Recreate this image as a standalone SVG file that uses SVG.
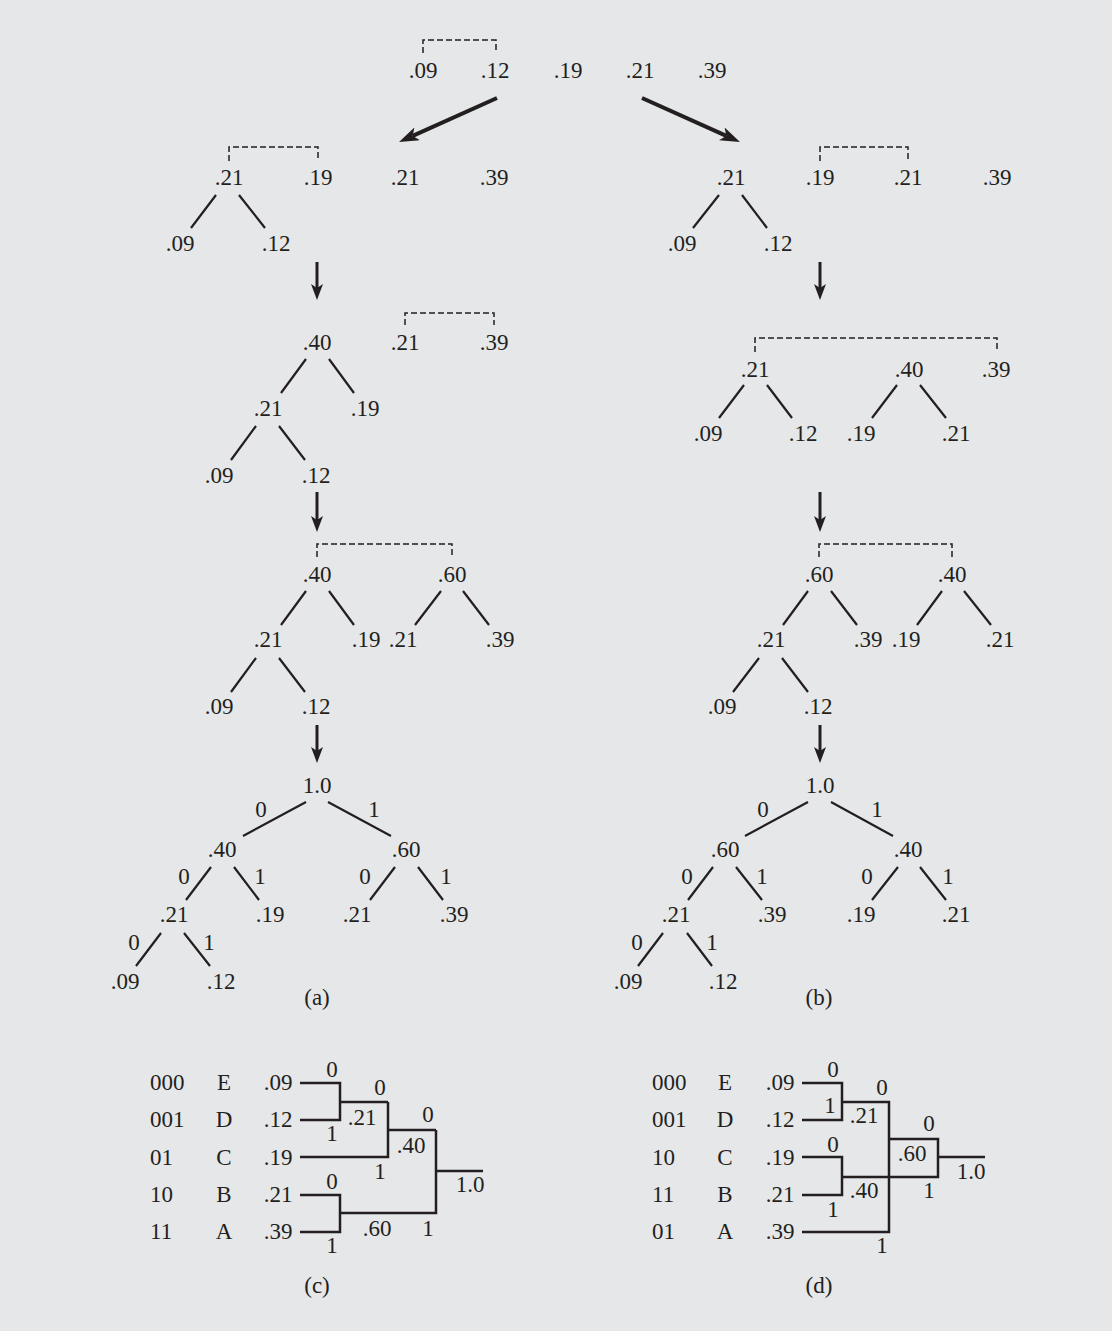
<svg xmlns="http://www.w3.org/2000/svg" width="1112" height="1331" viewBox="0 0 1112 1331">
<style>
text{font-family:"Liberation Serif","Times New Roman",serif;font-size:23px;fill:#231f20;text-anchor:middle}
.l{text-anchor:start}
.e{stroke:#231f20;stroke-width:2.2;fill:none}
.d{stroke:#231f20;stroke-width:1.5;fill:none;stroke-dasharray:6 3}
.w{stroke:#231f20;stroke-width:2.5;fill:none}
.va{stroke:#231f20;stroke-width:3;fill:none}
.da{stroke:#231f20;stroke-width:4;fill:none}
</style>
<defs>
<marker id="hv" viewBox="0 -6 16 12" markerWidth="16" markerHeight="12" refX="4" refY="0" markerUnits="userSpaceOnUse" orient="auto"><path d="M0,-6 L16,0 L0,6 L4,0 z" fill="#231f20"/></marker>
<marker id="hd" viewBox="0 -7 20 14" markerWidth="20" markerHeight="14" refX="5" refY="0" markerUnits="userSpaceOnUse" orient="auto"><path d="M0,-7 L20,0 L0,7 L5,0 z" fill="#231f20"/></marker>
</defs>
<rect x="0" y="0" width="1112" height="1331" fill="#e6e7e9"/>

<g id="connectors">
<line class="da" x1="497" y1="98" x2="412.7" y2="135.9" marker-end="url(#hd)"/>
<line class="da" x1="642" y1="98" x2="726.3" y2="135.9" marker-end="url(#hd)"/>
<line class="va" x1="317" y1="262" x2="317" y2="288" marker-end="url(#hv)"/>
<line class="va" x1="820" y1="262" x2="820" y2="288" marker-end="url(#hv)"/>
<line class="va" x1="317" y1="492" x2="317" y2="520" marker-end="url(#hv)"/>
<line class="va" x1="820" y1="492" x2="820" y2="520" marker-end="url(#hv)"/>
<line class="va" x1="317" y1="725" x2="317" y2="751" marker-end="url(#hv)"/>
<line class="va" x1="820" y1="725" x2="820" y2="751" marker-end="url(#hv)"/>
<path class="d" d="M423,53 V40 H496 V53"/>
<path class="d" d="M229,161 V147 H318 V161"/>
<path class="d" d="M820,161 V147 H908 V161"/>
<path class="d" d="M405,325 V313 H494 V325"/>
<path class="d" d="M755,352 V338 H997 V352"/>
<path class="d" d="M317,557 V544 H452 V557"/>
<path class="d" d="M819,557 V544 H952 V557"/>
<path class="e" d="M216,195 L191,228 M239,195 L265,228"/>
<path class="e" d="M719,195 L693,228 M742,195 L767,228"/>
<path class="e" d="M306,359 L281,393 M329,359 L354,393 M256,426 L231,460 M279,426 L305,460"/>
<path class="e" d="M744,385 L719,418 M767,385 L792,418 M897,385 L872,418 M920,385 L946,418"/>
<path class="e" d="M306,591 L281,625 M329,591 L354,625 M441,591 L415,625 M463,591 L489,625 M256,658 L231,692 M279,658 L305,692"/>
<path class="e" d="M808,591 L783,625 M831,591 L857,625 M942,591 L917,625 M964,591 L991,625 M759,658 L733,692 M782,658 L808,692"/>
<path class="e" d="M306,802 L243,836 M328,802 L391,836 M211,867 L186,900 M234,867 L259,900 M395,867 L370,900 M418,867 L443,900 M161,933 L136,966 M184,933 L210,966"/>
<path class="e" d="M808,802 L745,836 M831,802 L893,836 M713,867 L688,900 M736,867 L762,900 M898,867 L872,900 M920,867 L946,900 M663,933 L638,966 M687,933 L712,966"/>
<path class="w" d="M300,1083 H340 V1120 H300 M340,1102 H388 M300,1157 H388 V1102 M388,1130 H436 M300,1195 H340 V1232 H300 M340,1213 H436 V1130 M436,1171 H483"/>
<path class="w" d="M802,1083 H842 V1120 H802 M842,1102 H889 V1232 H802 M802,1157 H842 V1195 H802 M842,1177 H938 V1139 H889 M938,1157 H985"/>
</g>

<g id="stage1">
<g id="s1-09"><text x="423" y="78">.09</text></g>
<g id="s1-12"><text x="495" y="78">.12</text></g>
<g id="s1-19"><text x="568" y="78">.19</text></g>
<g id="s1-21"><text x="640" y="78">.21</text></g>
<g id="s1-39"><text x="712" y="78">.39</text></g>
</g>

<g id="a-stage2">
<g id="a2-21"><text x="229" y="185">.21</text></g>
<g id="a2-19"><text x="318" y="185">.19</text></g>
<g id="a2-21b"><text x="405" y="185">.21</text></g>
<g id="a2-39"><text x="494" y="185">.39</text></g>
<g id="a2-09"><text x="180" y="251">.09</text></g>
<g id="a2-12"><text x="276" y="251">.12</text></g>
</g>
<g id="b-stage2">
<g id="b2-21"><text x="731" y="185">.21</text></g>
<g id="b2-19"><text x="820" y="185">.19</text></g>
<g id="b2-21b"><text x="908" y="185">.21</text></g>
<g id="b2-39"><text x="997" y="185">.39</text></g>
<g id="b2-09"><text x="682" y="251">.09</text></g>
<g id="b2-12"><text x="778" y="251">.12</text></g>
</g>

<g id="a-stage3">
<g id="a3-40"><text x="317" y="350">.40</text></g>
<g id="a3-21b"><text x="405" y="350">.21</text></g>
<g id="a3-39"><text x="494" y="350">.39</text></g>
<g id="a3-21"><text x="268" y="416">.21</text></g>
<g id="a3-19"><text x="365" y="416">.19</text></g>
<g id="a3-09"><text x="219" y="483">.09</text></g>
<g id="a3-12"><text x="316" y="483">.12</text></g>
</g>
<g id="b-stage3">
<g id="b3-21"><text x="755" y="377">.21</text></g>
<g id="b3-40"><text x="909" y="377">.40</text></g>
<g id="b3-39"><text x="996" y="377">.39</text></g>
<g id="b3-09"><text x="708" y="441">.09</text></g>
<g id="b3-12"><text x="803" y="441">.12</text></g>
<g id="b3-19"><text x="861" y="441">.19</text></g>
<g id="b3-21b"><text x="956" y="441">.21</text></g>
</g>

<g id="a-stage4">
<g id="a4-40"><text x="317" y="582">.40</text></g>
<g id="a4-60"><text x="452" y="582">.60</text></g>
<g id="a4-21"><text x="268" y="647">.21</text></g>
<g id="a4-19"><text x="366" y="647">.19</text></g>
<g id="a4-21b"><text x="403" y="647">.21</text></g>
<g id="a4-39"><text x="500" y="647">.39</text></g>
<g id="a4-09"><text x="219" y="714">.09</text></g>
<g id="a4-12"><text x="316" y="714">.12</text></g>
</g>
<g id="b-stage4">
<g id="b4-60"><text x="819" y="582">.60</text></g>
<g id="b4-40"><text x="952" y="582">.40</text></g>
<g id="b4-21"><text x="771" y="647">.21</text></g>
<g id="b4-39"><text x="868" y="647">.39</text></g>
<g id="b4-19"><text x="906" y="647">.19</text></g>
<g id="b4-21b"><text x="1000" y="647">.21</text></g>
<g id="b4-09"><text x="722" y="714">.09</text></g>
<g id="b4-12"><text x="818" y="714">.12</text></g>
</g>

<g id="a-final">
<g id="a5-10"><text x="317" y="793">1.0</text></g>
<g id="a5-40"><text x="222" y="857">.40</text></g>
<g id="a5-60"><text x="406" y="857">.60</text></g>
<g id="a5-21"><text x="174" y="922">.21</text></g>
<g id="a5-19"><text x="270" y="922">.19</text></g>
<g id="a5-21b"><text x="357" y="922">.21</text></g>
<g id="a5-39"><text x="454" y="922">.39</text></g>
<g id="a5-09"><text x="125" y="989">.09</text></g>
<g id="a5-12"><text x="221" y="989">.12</text></g>
<g id="a5-bits">
<text x="261" y="817">0</text><text x="374" y="817">1</text>
<text x="184" y="884">0</text><text x="260" y="884">1</text>
<text x="365" y="884">0</text><text x="446" y="884">1</text>
<text x="134" y="950">0</text><text x="209" y="950">1</text>
</g>
<g id="cap-a"><text x="317" y="1005">(a)</text></g>
</g>

<g id="b-final">
<g id="b5-10"><text x="820" y="793">1.0</text></g>
<g id="b5-60"><text x="725" y="857">.60</text></g>
<g id="b5-40"><text x="908" y="857">.40</text></g>
<g id="b5-21"><text x="676" y="922">.21</text></g>
<g id="b5-39"><text x="772" y="922">.39</text></g>
<g id="b5-19"><text x="861" y="922">.19</text></g>
<g id="b5-21b"><text x="956" y="922">.21</text></g>
<g id="b5-09"><text x="628" y="989">.09</text></g>
<g id="b5-12"><text x="723" y="989">.12</text></g>
<g id="b5-bits">
<text x="763" y="817">0</text><text x="877" y="817">1</text>
<text x="687" y="884">0</text><text x="762" y="884">1</text>
<text x="867" y="884">0</text><text x="948" y="884">1</text>
<text x="637" y="950">0</text><text x="712" y="950">1</text>
</g>
<g id="cap-b"><text x="819" y="1005">(b)</text></g>
</g>

<g id="panel-c">
<g id="c-row1"><text class="l" x="150" y="1090">000</text><text x="224" y="1090">E</text><text x="278" y="1090">.09</text></g>
<g id="c-row2"><text class="l" x="150" y="1127">001</text><text x="224" y="1127">D</text><text x="278" y="1127">.12</text></g>
<g id="c-row3"><text class="l" x="150" y="1165">01</text><text x="224" y="1165">C</text><text x="278" y="1165">.19</text></g>
<g id="c-row4"><text class="l" x="150" y="1202">10</text><text x="224" y="1202">B</text><text x="278" y="1202">.21</text></g>
<g id="c-row5"><text class="l" x="150" y="1239">11</text><text x="224" y="1239">A</text><text x="278" y="1239">.39</text></g>
<g id="c-n21"><text x="362" y="1125">.21</text></g>
<g id="c-n40"><text x="411" y="1153">.40</text></g>
<g id="c-n60"><text x="377" y="1236">.60</text></g>
<g id="c-n10"><text x="470" y="1192">1.0</text></g>
<g id="c-bits">
<text x="332" y="1077">0</text><text x="332" y="1141">1</text>
<text x="380" y="1095">0</text><text x="380" y="1179">1</text>
<text x="428" y="1122">0</text><text x="428" y="1236">1</text>
<text x="332" y="1189">0</text><text x="332" y="1253">1</text>
</g>
<g id="cap-c"><text x="317" y="1293">(c)</text></g>
</g>

<g id="panel-d">
<g id="d-row1"><text class="l" x="652" y="1090">000</text><text x="725" y="1090">E</text><text x="780" y="1090">.09</text></g>
<g id="d-row2"><text class="l" x="652" y="1127">001</text><text x="725" y="1127">D</text><text x="780" y="1127">.12</text></g>
<g id="d-row3"><text class="l" x="652" y="1165">10</text><text x="725" y="1165">C</text><text x="780" y="1165">.19</text></g>
<g id="d-row4"><text class="l" x="652" y="1202">11</text><text x="725" y="1202">B</text><text x="780" y="1202">.21</text></g>
<g id="d-row5"><text class="l" x="652" y="1239">01</text><text x="725" y="1239">A</text><text x="780" y="1239">.39</text></g>
<g id="d-n21"><text x="864" y="1123">.21</text></g>
<g id="d-n40"><text x="864" y="1198">.40</text></g>
<g id="d-n60"><text x="912" y="1161">.60</text></g>
<g id="d-n10"><text x="971" y="1179">1.0</text></g>
<g id="d-bits">
<text x="833" y="1077">0</text><text x="830" y="1113">1</text>
<text x="882" y="1095">0</text><text x="929" y="1131">0</text>
<text x="929" y="1198">1</text><text x="833" y="1152">0</text>
<text x="833" y="1217">1</text><text x="882" y="1253">1</text>
</g>
<g id="cap-d"><text x="819" y="1293">(d)</text></g>
</g>
</svg>
